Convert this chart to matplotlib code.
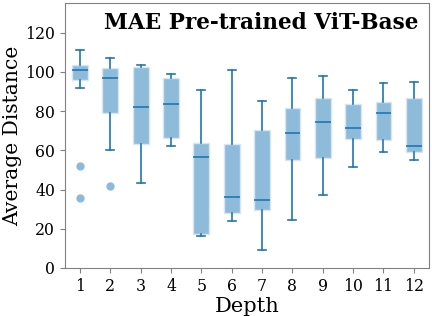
import numpy as np
import matplotlib
matplotlib.use("Agg")
import matplotlib.pyplot as plt

plt.rcParams['font.family'] = 'DejaVu Serif'

# Box statistics (depth 1..12)
depths = list(range(1, 13))
whislo = [91.5, 60.0, 43.2, 62.0, 16.5, 23.9, 9.4, 24.4, 37.1, 51.3, 59.0, 54.9]
q1 = [95.6, 78.8, 63.3, 66.3, 17.3, 28.0, 29.7, 54.9, 56.2, 65.6, 65.1, 59.2]
med = [101.0, 96.6, 82.0, 83.4, 56.4, 36.3, 34.6, 68.9, 74.5, 71.2, 79.1, 62.0]
q3 = [103.7, 102.0, 102.4, 96.6, 63.5, 63.0, 70.2, 81.3, 86.9, 83.6, 84.4, 86.4]
whishi = [111.0, 107.0, 103.7, 99.0, 90.7, 101.0, 85.2, 96.8, 97.9, 90.7, 94.3, 94.8]
fliers = [[51.8, 35.6], [41.7], [], [], [], [], [], [], [], [], [], []]

stats = []
for i in range(len(depths)):
    stats.append(dict(whislo=whislo[i], q1=q1[i], med=med[i], q3=q3[i],
                      whishi=whishi[i], fliers=fliers[i], label=str(depths[i])))

fig, ax = plt.subplots(figsize=(4.32, 3.16), dpi=100)
blue = '#1f77b4'
ax.bxp(stats, positions=depths, widths=0.52, patch_artist=True,
       boxprops=dict(facecolor=(0.12, 0.47, 0.71, 0.5), edgecolor=(0.85, 0.9, 0.95), linewidth=1),
       medianprops=dict(color=blue, linewidth=1.2),
       whiskerprops=dict(color=blue, linewidth=1.2),
       capprops=dict(color=blue, linewidth=1.2),
       flierprops=dict(marker='o', markerfacecolor=blue, markeredgecolor='none',
                       alpha=0.5, markersize=6))

ax.set_xlim(0.5, 12.5)
ax.set_ylim(0, 135)
ax.set_yticks([0, 20, 40, 60, 80, 100, 120])
ax.set_xlabel('Depth', fontsize=15, labelpad=2)
ax.set_ylabel('Average Distance', fontsize=14.6, labelpad=2.5)
ax.tick_params(labelsize=11.3)
for s in ax.spines.values():
    s.set_color('grey')
ax.tick_params(color='grey')
ax.text(0.97, 0.965, 'MAE Pre-trained ViT-Base', transform=ax.transAxes,
        ha='right', va='top', fontsize=15.6, fontweight='bold')

plt.subplots_adjust(left=0.15, right=0.993, top=0.99, bottom=0.152)
plt.savefig('out.png')
